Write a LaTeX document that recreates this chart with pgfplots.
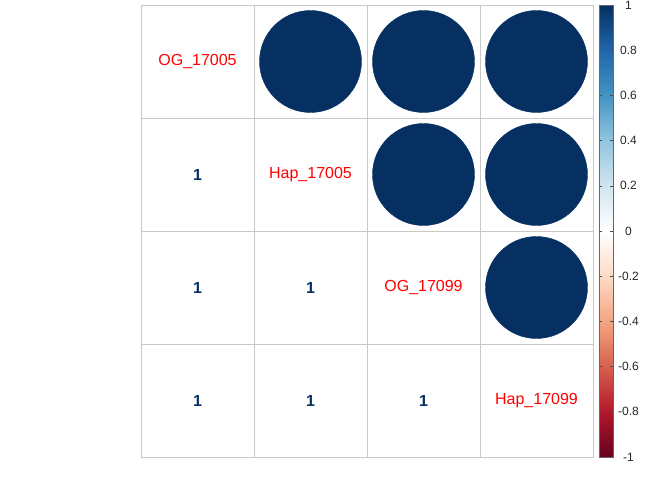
\documentclass[border=0pt]{standalone}
\usepackage{pgfplots}
\pgfplotsset{compat=1.18}
\usepackage{fontspec}
\setmainfont{Liberation Sans}
\definecolor{cdark}{HTML}{053061}
\definecolor{gridgray}{HTML}{C8C8C8}
\pgfplotsset{
  colormap={rdbu}{
    rgb255=(103,0,31) rgb255=(178,24,43) rgb255=(214,96,77) rgb255=(244,165,130)
    rgb255=(253,219,199) rgb255=(255,255,255) rgb255=(209,229,240) rgb255=(146,197,222)
    rgb255=(67,147,195) rgb255=(33,102,172) rgb255=(5,48,97)}
}
\begin{document}
\begin{tikzpicture}
\useasboundingbox (-141pt,-23pt) rectangle (531pt,457pt);
\begin{axis}[
  scale only axis, width=452pt, height=452pt,
  xmin=0.5, xmax=4.5, ymin=0.5, ymax=4.5,
  xtick={0.5,1.5,2.5,3.5,4.5}, ytick={0.5,1.5,2.5,3.5,4.5},
  xticklabels={}, yticklabels={},
  major tick length=0pt,
  grid=major, major grid style={gridgray, line width=1pt},
  axis line style={gridgray, line width=1pt},
  colormap name=rdbu,
  point meta min=-1, point meta max=1,
  colorbar,
  colorbar style={
    at={(parent axis.north east)}, anchor=north west, xshift=-2.5pt,
    width=14pt, height=452pt, scale only axis,
    ytick={-1,-0.8,-0.6,-0.4,-0.2,0,0.2,0.4,0.6,0.8,1},
    yticklabels={-1,-0.8,-0.6,-0.4,-0.2,0,0.2,0.4,0.6,0.8,1},
    yticklabel style={font=\fontsize{12}{14}\selectfont, text=black!85, anchor=center, xshift=15.5pt},
    major tick length=3pt,
    ytick style={black!70, line width=0.6pt},
    axis line style={black!60, line width=0.6pt},
    yticklabel pos=right,
    grid=none,
  },
]
% circles (upper triangle)
\addplot[only marks, mark=*, mark size=51pt, mark options={fill=cdark, draw=cdark}, forget plot]
  coordinates {(2,4) (3,4) (4,4) (3,3) (4,3) (4,2)};
% diagonal labels
\addplot[only marks, mark=none, forget plot,
  nodes near coords, point meta=explicit symbolic,
  nodes near coords style={anchor=center, text=red, font=\fontsize{16}{18}\selectfont}]
  table[meta=label] {
x y label
1 4 OG\_17005
2 3 Hap\_17005
3 2 OG\_17099
4 1 Hap\_17099
};
% numbers (lower triangle)
\addplot[only marks, mark=none, forget plot,
  nodes near coords, point meta=explicit symbolic,
  nodes near coords style={anchor=center, text=cdark, font=\fontsize{16}{18}\selectfont\bfseries}]
  table[meta=label] {
x y label
1 3 1
1 2 1
2 2 1
1 1 1
2 1 1
3 1 1
};
\end{axis}
\end{tikzpicture}
\end{document}
